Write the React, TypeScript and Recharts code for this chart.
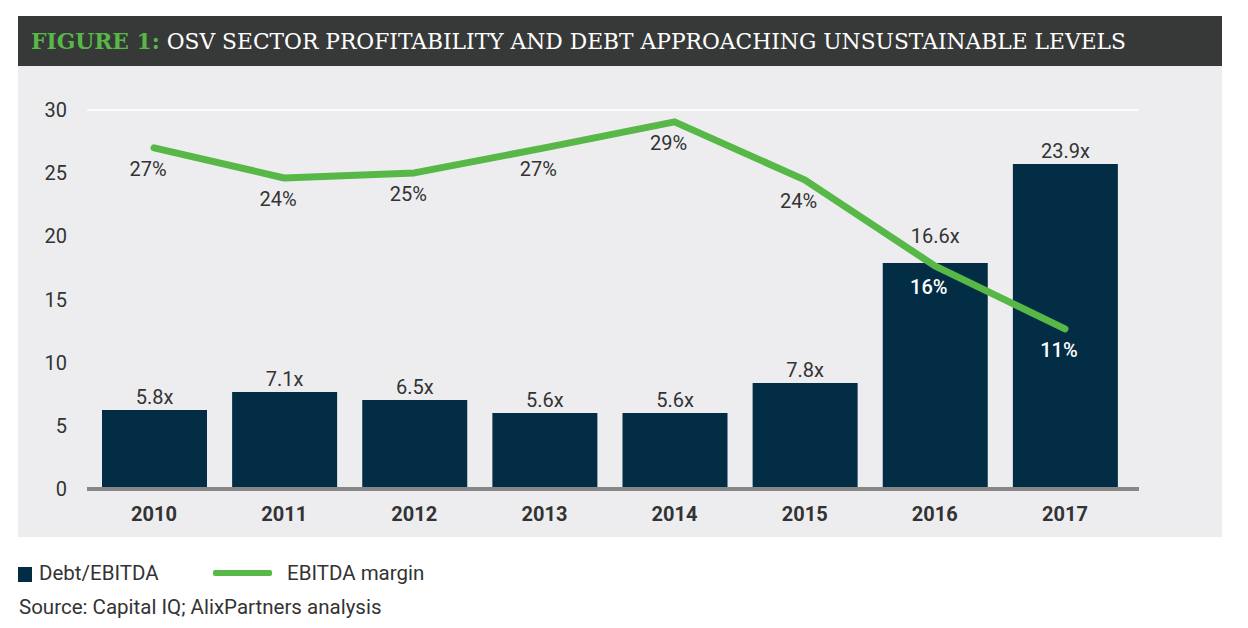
import React from 'react';
import { ComposedChart, Bar, Line, XAxis, YAxis, CartesianGrid, LabelList, ReferenceLine } from 'recharts';

const years = ['2010', '2011', '2012', '2013', '2014', '2015', '2016', '2017'];
const debtBarHeights = [6.25, 7.68, 7.05, 6.02, 6.02, 8.39, 17.89, 25.73];
const debtLabels = ['5.8x', '7.1x', '6.5x', '5.6x', '5.6x', '7.8x', '16.6x', '23.9x'];
const marginLine = [27.0, 24.62, 25.02, 27.0, 29.06, 24.47, 17.66, 12.67];
const marginLabels = ['27%', '24%', '25%', '27%', '29%', '24%', '16%', '11%'];
const yTicks = [0, 5, 10, 15, 20, 25, 30];

const data = years.map((y, i) => ({
  year: y,
  debt: debtBarHeights[i],
  debtLabel: debtLabels[i],
  margin: marginLine[i],
  marginLabel: marginLabels[i],
}));

const NAVY = '#022d45';
const GREEN = '#57b847';
const TEXT = '#333333';
const FONT = 'Roboto, "Noto Sans", sans-serif';

const LeftTick = (props: any) => (
  <text x={props.x - 20} y={props.y} textAnchor="end" dominantBaseline="central" fontSize={20} fill={TEXT} fontFamily={FONT}>
    {props.payload.value}
  </text>
);
const RightTick = (props: any) => (
  <text x={props.x + 41} y={props.y} textAnchor="end" dominantBaseline="central" fontSize={20} fill={TEXT} fontFamily={FONT}>
    {props.payload.value}
  </text>
);
const XTick = (props: any) => (
  <text x={props.x} y={props.y + 25} textAnchor="middle" dominantBaseline="central" fontSize={20} fontWeight={700} fill={TEXT} fontFamily={FONT}>
    {props.payload.value}
  </text>
);

const BarLabel = (props: any) => {
  const { x, y, width, index } = props;
  // the 2016 label sits higher in the reference, clear of the line
  const lift = index === 6 ? 20 : 6;
  return (
    <text x={x + width / 2} y={y - lift} textAnchor="middle" fontSize={20} fill={TEXT} fontFamily={FONT}>
      {debtLabels[index]}
    </text>
  );
};

const LineLabel = (props: any) => {
  const { x, y, index } = props;
  const white = index >= 6;
  return (
    <text x={x - 6} y={y + 21} textAnchor="middle" dominantBaseline="central" fontSize={20} fill={white ? '#ffffff' : TEXT} fontWeight={white ? 500 : 400} fontFamily={FONT}>
      {marginLabels[index]}
    </text>
  );
};

export default function App() {
  return (
    <div style={{ position: 'fixed', left: 0, top: 0, width: 1248, height: 628, background: '#ffffff', fontFamily: FONT }}>
      <svg style={{ position: 'absolute', left: 18, top: 16 }} width={1204} height={50}>
        <rect x={0} y={0} width={1204} height={50} fill="#373938" />
        <text x={13} y={33} fontSize={22} fontFamily='"DejaVu Serif", serif' textLength={1095} lengthAdjust="spacingAndGlyphs">
          <tspan fill={GREEN} fontWeight={700}>FIGURE 1:</tspan>
          <tspan fill="#ffffff" fontWeight={400}> OSV SECTOR PROFITABILITY AND DEBT APPROACHING UNSUSTAINABLE LEVELS</tspan>
        </text>
      </svg>
      <div style={{ position: 'absolute', left: 18, top: 66, width: 1204, height: 471, background: '#ededf0' }}>
        <ComposedChart width={1204} height={471} data={data} margin={{ top: 44, right: 0, bottom: 0, left: 0 }} barSize={105}>
          <CartesianGrid vertical={false} stroke="#ffffff" strokeWidth={1.5} />
          <XAxis dataKey="year" axisLine={false} tickLine={false} tickSize={0} tickMargin={0} height={48} padding={{ left: 2, right: 9 }} tick={<XTick />} interval={0} />
          <YAxis yAxisId="left" orientation="left" domain={[0, 30]} ticks={yTicks} width={69} axisLine={false} tickLine={false} tickSize={0} tickMargin={0} tick={<LeftTick />} />
          <YAxis yAxisId="right" orientation="right" domain={[0, 30]} ticks={yTicks} width={83} axisLine={false} tickLine={false} tickSize={0} tickMargin={0} tick={<RightTick />} />
          <Bar yAxisId="left" dataKey="debt" fill={NAVY} isAnimationActive={false}>
            <LabelList dataKey="debtLabel" content={<BarLabel />} />
          </Bar>
          <ReferenceLine yAxisId="left" y={0} stroke="#878787" strokeWidth={4} />
          <Line yAxisId="left" dataKey="margin" stroke={GREEN} strokeWidth={7} dot={false} strokeLinecap="round" strokeLinejoin="round" isAnimationActive={false}>
            <LabelList dataKey="marginLabel" content={<LineLabel />} />
          </Line>
        </ComposedChart>
      </div>
      <div style={{ position: 'absolute', left: 18, top: 567, width: 14, height: 15, background: NAVY }} />
      <div style={{ position: 'absolute', left: 39, top: 561, fontSize: 20.5, lineHeight: '24px', color: TEXT, whiteSpace: 'nowrap' }}>Debt/EBITDA</div>
      <div style={{ position: 'absolute', left: 213, top: 570, width: 59, height: 6, background: GREEN, borderRadius: 2 }} />
      <div style={{ position: 'absolute', left: 287, top: 561, fontSize: 20.5, lineHeight: '24px', color: TEXT, whiteSpace: 'nowrap' }}>EBITDA margin</div>
      <div style={{ position: 'absolute', left: 19, top: 595, fontSize: 20.5, lineHeight: '24px', color: TEXT, whiteSpace: 'nowrap' }}>Source: Capital IQ; AlixPartners analysis</div>
    </div>
  );
}
